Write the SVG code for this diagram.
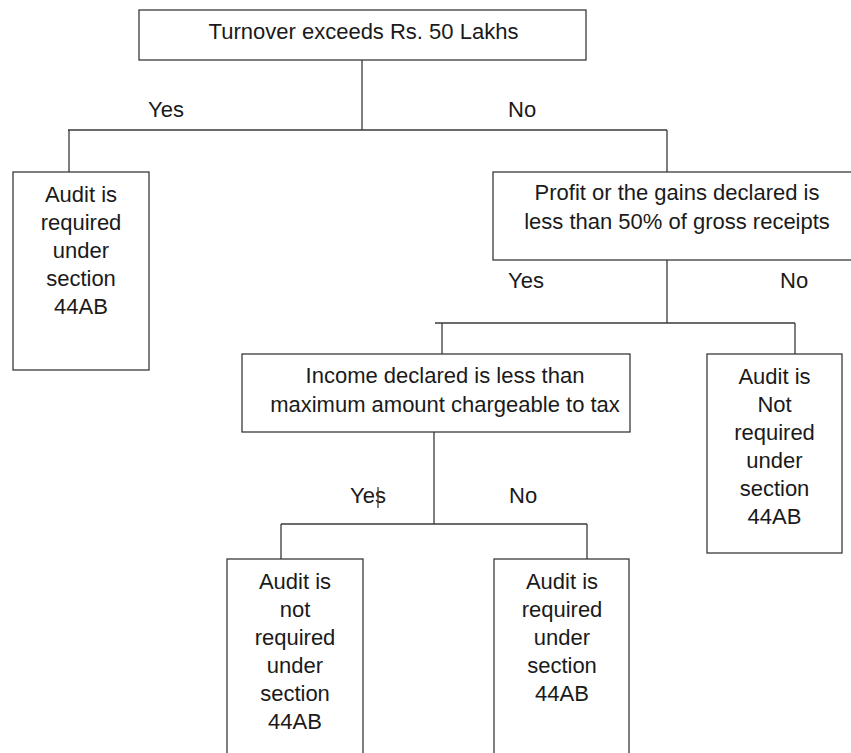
<svg xmlns="http://www.w3.org/2000/svg" width="851" height="753" viewBox="0 0 851 753">
<style>
.box{fill:#fff;stroke:#3a3a3a;stroke-width:1.3}
.ln{fill:none;stroke:#3a3a3a;stroke-width:1.3}
text{font-family:"Liberation Sans",Arial,sans-serif;font-size:22px;fill:#1a1a1a}
.c{text-anchor:middle}
</style>
<rect width="851" height="753" fill="#fff"/>
<g id="connectors">
<path class="ln" d="M362 60V130M68 130H667M69 130V172M667 130V172"/>
<path class="ln" d="M667 260V323M435 323H795M442 323V354M795 323V354"/>
<path class="ln" d="M434 432V524M281 524H587M281 524V559M587 524V559"/>
</g>
<g id="turnover">
<rect class="box" x="139" y="10" width="447" height="50"/>
<text class="c" x="363.5" y="39">Turnover exceeds Rs. 50 Lakhs</text>
</g>
<g id="labels1">
<text x="148" y="117">Yes</text>
<text x="508" y="117">No</text>
</g>
<g id="audit-required-1">
<rect class="box" x="13" y="172" width="136" height="198"/>
<text class="c" x="81" y="201.5">Audit is</text>
<text class="c" x="81" y="229.5">required</text>
<text class="c" x="81" y="257.5">under</text>
<text class="c" x="81" y="285.5">section</text>
<text class="c" x="81" y="313.5">44AB</text>
</g>
<g id="profit">
<rect class="box" x="493" y="172" width="370" height="88"/>
<text class="c" x="677" y="200">Profit or the gains declared is</text>
<text class="c" x="677" y="228.5">less than 50% of gross receipts</text>
</g>
<g id="labels2">
<text x="508" y="288">Yes</text>
<text x="780" y="288">No</text>
</g>
<g id="income">
<rect class="box" x="242" y="354" width="388" height="78"/>
<text class="c" x="445" y="383">Income declared is less than</text>
<text class="c" x="445" y="411.5">maximum amount chargeable to tax</text>
</g>
<g id="audit-not-required-1">
<rect class="box" x="707" y="354" width="135" height="199"/>
<text class="c" x="774.5" y="384">Audit is</text>
<text class="c" x="774.5" y="412">Not</text>
<text class="c" x="774.5" y="440">required</text>
<text class="c" x="774.5" y="468">under</text>
<text class="c" x="774.5" y="496">section</text>
<text class="c" x="774.5" y="524">44AB</text>
</g>
<g id="labels3">
<text x="350" y="503">Yes</text>
<line class="ln" x1="378" y1="487" x2="378" y2="508"/>
<text x="509" y="503">No</text>
</g>
<g id="audit-not-required-2">
<rect class="box" x="227" y="559" width="136" height="210"/>
<text class="c" x="295" y="588.5">Audit is</text>
<text class="c" x="295" y="616.5">not</text>
<text class="c" x="295" y="644.5">required</text>
<text class="c" x="295" y="672.5">under</text>
<text class="c" x="295" y="700.5">section</text>
<text class="c" x="295" y="728.5">44AB</text>
</g>
<g id="audit-required-2">
<rect class="box" x="494" y="559" width="135" height="210"/>
<text class="c" x="562" y="588.5">Audit is</text>
<text class="c" x="562" y="616.5">required</text>
<text class="c" x="562" y="644.5">under</text>
<text class="c" x="562" y="672.5">section</text>
<text class="c" x="562" y="700.5">44AB</text>
</g>
</svg>
